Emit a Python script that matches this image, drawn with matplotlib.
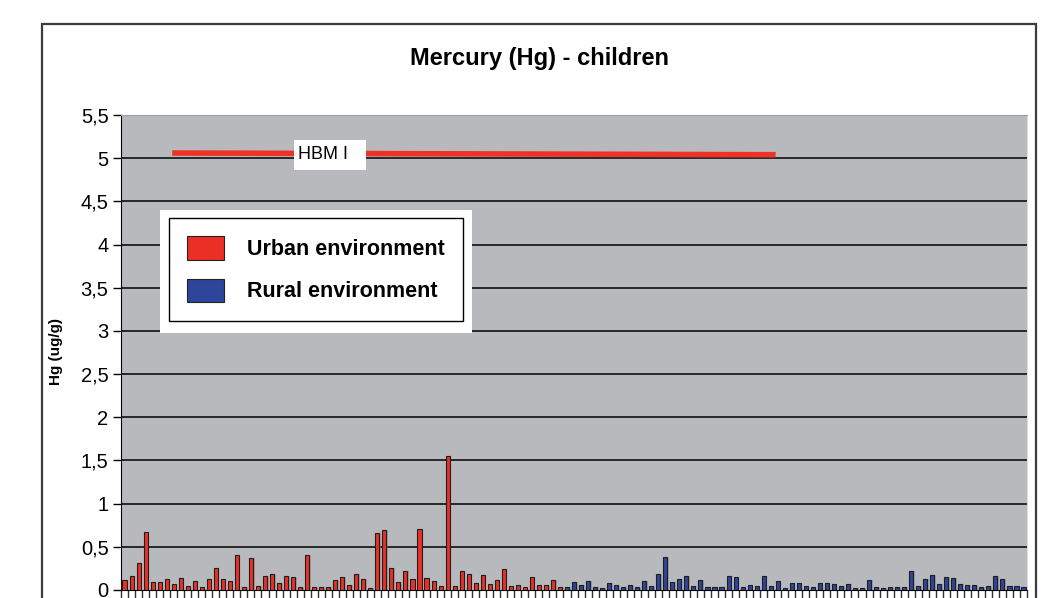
import numpy as np
import matplotlib
matplotlib.use("Agg")
import matplotlib.pyplot as plt
from matplotlib.patches import Rectangle, Patch

plt.rcParams["font.family"] = ["Liberation Sans", "DejaVu Sans"]

# --- data ---
urban = [0.12, 0.16, 0.31, 0.67, 0.09, 0.09, 0.13, 0.07, 0.14, 0.05, 0.10, 0.04, 0.13,
         0.25, 0.13, 0.10, 0.40, 0.04, 0.37, 0.05, 0.16, 0.19, 0.08, 0.16, 0.15, 0.03,
         0.40, 0.03, 0.04, 0.04, 0.12, 0.15, 0.06, 0.18, 0.13, 0.02, 0.66, 0.70, 0.26,
         0.09, 0.22, 0.13, 0.71, 0.14, 0.10, 0.05, 1.55, 0.05, 0.22, 0.18, 0.08, 0.17,
         0.07, 0.12, 0.24, 0.05, 0.06, 0.04, 0.15, 0.06, 0.06, 0.12, 0.03]
rural = [0.04, 0.09, 0.06, 0.10, 0.03, 0.02, 0.08, 0.06, 0.03, 0.06, 0.04, 0.10, 0.05,
         0.19, 0.38, 0.09,
         0.13, 0.16, 0.05, 0.12, 0.03, 0.04, 0.03, 0.16, 0.15, 0.04, 0.06, 0.05, 0.16,
         0.05, 0.10, 0.02, 0.08, 0.08, 0.05, 0.04, 0.08, 0.08, 0.07, 0.05, 0.07, 0.02,
         0.02, 0.12, 0.04, 0.02, 0.04, 0.03, 0.03, 0.22, 0.05, 0.13, 0.17, 0.07, 0.15,
         0.14, 0.07, 0.06, 0.06, 0.03, 0.05, 0.16, 0.13, 0.05, 0.05, 0.04]
hbm_x = [6.8, 92.7]
hbm_y = [5.06, 5.04]
y_ticks = [0, 0.5, 1, 1.5, 2, 2.5, 3, 3.5, 4, 4.5, 5, 5.5]

RED = "#EC2F26"
BLUE = "#2D469C"
BG = "#B8B9BD"

n_u, n_r = len(urban), len(rural)
x_u = np.arange(n_u)
x_r = np.arange(n_u, n_u + n_r)
n = n_u + n_r

fig = plt.figure(figsize=(10.55, 5.98), dpi=100)
ax = fig.add_axes([0.1147, 0.01338, 0.8588, 0.7943])
ax.set_facecolor(BG)

# soft shadow, then bars
w = 0.58
ax.bar(x_u + 0.22, urban, width=w, color="#85868a", alpha=0.5, zorder=2, linewidth=0)
ax.bar(x_r + 0.22, rural, width=w, color="#85868a", alpha=0.5, zorder=2, linewidth=0)
ax.bar(x_u, urban, width=w, color=RED, edgecolor="#1e1e1e", linewidth=0.8, zorder=3)
ax.bar(x_r, rural, width=w, color=BLUE, edgecolor="#1e1e1e", linewidth=0.8, zorder=3)

# HBM I reference line
ax.plot(hbm_x, hbm_y, color="#EE3228", lw=4, solid_capstyle="butt", zorder=4)
ax.add_patch(Rectangle((0.191, 0.884), 0.0795, 0.063, transform=ax.transAxes,
                       facecolor="white", edgecolor="none", zorder=5))
ax.text(0.1954, 0.916, "HBM I", transform=ax.transAxes, fontsize=13,
        ha="left", va="center", zorder=6)

ax.set_xlim(-0.5, n - 0.5)
ax.set_ylim(0, 5.5)
ax.set_yticks(y_ticks)
ax.set_yticklabels([("%g" % v).replace(".", ",") for v in y_ticks], fontsize=14.5)
ax.set_xticks(np.arange(-0.5, n, 1.0))
ax.set_xticklabels([])
ax.tick_params(axis="y", direction="out", length=6, width=1, pad=3, color="black")
ax.tick_params(axis="x", direction="out", length=12, width=1, color="#333333")
for v in y_ticks[1:-1]:
    ax.axhline(v, color="black", lw=1.1, zorder=1)

ax.spines["left"].set_color("black")
ax.spines["bottom"].set_color("black")
ax.spines["top"].set_color("#9c9da1")
ax.spines["right"].set_color("#dcdcdc")

# legend with white outer box
ax.add_patch(Rectangle((0.043, 0.541), 0.3444, 0.259, transform=ax.transAxes,
                       facecolor="white", edgecolor="none", zorder=6))
handles = [Patch(facecolor=RED, edgecolor="#222222", lw=0.8, label="Urban environment"),
           Patch(facecolor=BLUE, edgecolor="#222222", lw=0.8, label="Rural environment")]
leg = ax.legend(handles=handles, loc="upper left", bbox_to_anchor=(0.053, 0.7832),
                borderaxespad=0, frameon=True, fancybox=False, framealpha=1,
                edgecolor="black", prop={"size": 15.5, "weight": "bold"},
                handlelength=1.72, handleheight=1.3, handletextpad=1.05,
                labelspacing=0.85, borderpad=0.85)
leg.get_frame().set_linewidth(1.0)
leg.set_zorder(7)

# title, y label, outer frame
fig.text(0.511, 0.902, "Mercury (Hg) - children", ha="center", va="center",
         fontsize=17, fontweight="bold")
fig.text(0.0528, 0.413, "Hg (ug/g)", rotation=90, ha="center", va="center",
         fontsize=11, fontweight="bold")
fig.patches.append(Rectangle((0.0398, -0.1), 0.9422, 1.0599, transform=fig.transFigure,
                             fill=False, edgecolor="#3c3c3c", lw=1.6))

fig.savefig("out.png", dpi=100)
